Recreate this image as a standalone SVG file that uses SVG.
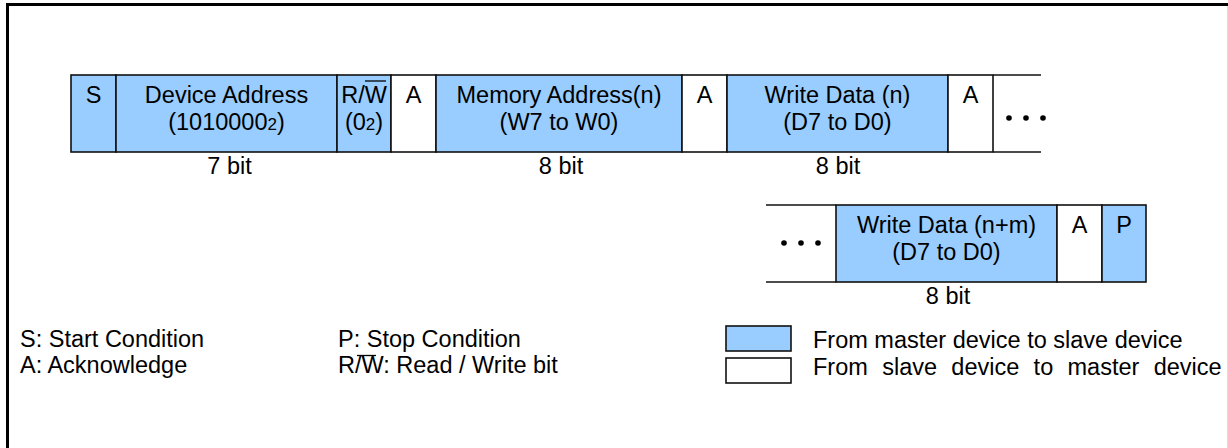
<svg xmlns="http://www.w3.org/2000/svg" width="1228" height="448" viewBox="0 0 1228 448">
  <style>
    text { font-family: "Liberation Sans", Arial, sans-serif; font-size: 23.5px; fill: #000; }
    .mid { text-anchor: middle; }
    .sub { font-size: 17px; }
    .m { fill: #99ccff; stroke: #111; stroke-width: 1.6; }
    .s { fill: #ffffff; stroke: #111; stroke-width: 1.6; }
    .edge { stroke: #111; stroke-width: 1.6; fill: none; }
    .ol { stroke: #000; stroke-width: 1.3; }
    .dot { fill: #000; }
  </style>

  <!-- frame -->
  <rect x="0" y="0" width="1228" height="448" fill="#fff"/>
  <line x1="6" y1="4.5" x2="1228" y2="4.5" stroke="#000" stroke-width="3"/>
  <line x1="7.5" y1="3" x2="7.5" y2="448" stroke="#000" stroke-width="3"/>
  <line x1="1227.5" y1="6" x2="1227.5" y2="448" stroke="#ddd" stroke-width="1"/>

  <!-- first frame sequence -->
  <g id="start">
    <rect class="m" x="71" y="75" width="45" height="77"/>
    <text class="mid" x="93.5" y="103">S</text>
  </g>
  <g id="device-address">
    <rect class="m" x="116" y="75" width="221" height="77"/>
    <text class="mid" x="226.5" y="103">Device Address</text>
    <text class="mid" x="226.5" y="130">(1010000<tspan class="sub">2</tspan>)</text>
    <text class="mid" x="229.5" y="174">7 bit</text>
  </g>
  <g id="rw">
    <rect class="m" x="337" y="75" width="54" height="77"/>
    <text class="mid" x="364" y="103">R/W</text>
    <line class="ol" x1="365" y1="81" x2="386" y2="81"/>
    <text class="mid" x="364" y="130">(0<tspan class="sub">2</tspan>)</text>
  </g>
  <g id="ack1">
    <rect class="s" x="391" y="75" width="45" height="77"/>
    <text class="mid" x="413.5" y="103">A</text>
  </g>
  <g id="memory-address">
    <rect class="m" x="436" y="75" width="246" height="77"/>
    <text class="mid" x="559" y="103">Memory Address(n)</text>
    <text class="mid" x="559" y="130">(W7 to W0)</text>
    <text class="mid" x="561" y="174">8 bit</text>
  </g>
  <g id="ack2">
    <rect class="s" x="682" y="75" width="45" height="77"/>
    <text class="mid" x="704.5" y="103">A</text>
  </g>
  <g id="write-data-n">
    <rect class="m" x="727" y="75" width="221" height="77"/>
    <text class="mid" x="837.5" y="103">Write Data (n)</text>
    <text class="mid" x="837.5" y="130">(D7 to D0)</text>
    <text class="mid" x="838" y="174">8 bit</text>
  </g>
  <g id="ack3">
    <rect class="s" x="948" y="75" width="45" height="77"/>
    <text class="mid" x="970.5" y="103">A</text>
  </g>
  <g id="continue1">
    <line class="edge" x1="993" y1="75" x2="1041" y2="75"/>
    <line class="edge" x1="993" y1="152" x2="1041" y2="152"/>
    <circle class="dot" cx="1009" cy="118" r="2.8"/>
    <circle class="dot" cx="1026" cy="118" r="2.8"/>
    <circle class="dot" cx="1043" cy="118" r="2.8"/>
  </g>

  <!-- second frame sequence -->
  <g id="continue2">
    <line class="edge" x1="766" y1="205" x2="836" y2="205"/>
    <line class="edge" x1="766" y1="282" x2="836" y2="282"/>
    <circle class="dot" cx="784" cy="243" r="2.8"/>
    <circle class="dot" cx="801" cy="243" r="2.8"/>
    <circle class="dot" cx="818" cy="243" r="2.8"/>
  </g>
  <g id="write-data-nm">
    <rect class="m" x="836" y="205" width="221" height="77"/>
    <text class="mid" x="946.5" y="233">Write Data (n+m)</text>
    <text class="mid" x="946.5" y="260">(D7 to D0)</text>
    <text class="mid" x="948" y="304">8 bit</text>
  </g>
  <g id="ack4">
    <rect class="s" x="1057" y="205" width="45" height="77"/>
    <text class="mid" x="1079.5" y="233">A</text>
  </g>
  <g id="stop">
    <rect class="m" x="1102" y="205" width="44" height="77"/>
    <text class="mid" x="1124" y="233">P</text>
  </g>

  <!-- legend -->
  <g id="legend-symbols">
    <text x="20" y="347">S: Start Condition</text>
    <text x="20" y="373">A: Acknowledge</text>
    <text x="338" y="347">P: Stop Condition</text>
    <text x="338" y="373">R/W: Read / Write bit</text>
    <line class="ol" x1="357" y1="355.5" x2="376" y2="355.5"/>
  </g>
  <g id="legend-colours">
    <rect class="m" x="726" y="326" width="65" height="25"/>
    <text x="813" y="348">From master device to slave device</text>
    <rect class="s" x="726" y="358" width="65" height="25"/>
    <text x="813" y="375" word-spacing="7.8">From slave device to master device</text>
  </g>
</svg>
